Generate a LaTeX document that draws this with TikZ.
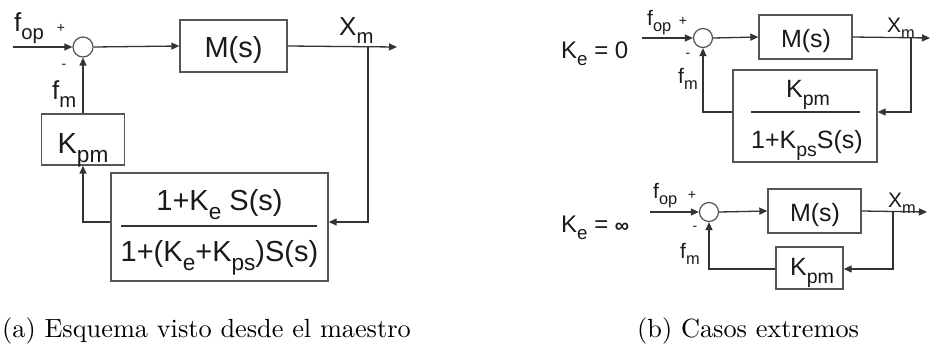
\documentclass[tikz,border=0pt]{standalone}
\usepackage{fontspec}
\newfontfamily\arial{Liberation Sans}
\usetikzlibrary{arrows.meta}
\newcommand{\sbs}[1]{\raisebox{-0.32em}{\scalebox{0.78}{#1}}}
\definecolor{lc}{HTML}{333333}
\definecolor{bc}{HTML}{555555}
\definecolor{tc}{HTML}{1A1A1A}
\begin{document}
\begin{tikzpicture}[x=1pt,y=-1pt,
  blk/.style={draw=bc,line width=1.4pt,inner sep=0pt},
  sumc/.style={circle,draw=bc,line width=1.2pt,inner sep=0pt,fill=white},
  ln/.style={draw=lc,line width=1.3pt},
  arr/.style={-{Triangle[length=8pt,width=7pt]}},
  bar/.style={draw=lc,line width=2pt},
  txt/.style={inner sep=0pt,anchor=base,text=tc},
  lblL/.style={txt,anchor=base west,font=\arial\fontsize{26}{30}\selectfont},
  lblR/.style={txt,anchor=base west,font=\arial\fontsize{21}{25}\selectfont},
  boxL/.style={txt,font=\arial\fontsize{29}{34}\selectfont},
  boxR/.style={txt,font=\arial\fontsize{25}{30}\selectfont},
  sgn/.style={inner sep=0pt,text=tc,font=\arial\fontsize{14}{16}\selectfont},
  captxt/.style={inner sep=0pt,anchor=base west,text=black,font=\fontsize{10}{12}\selectfont}
]
\useasboundingbox (0,0) rectangle (930,349);

% ---------------- left diagram ----------------
\coordinate (in1) at (13,47);
\node[sumc,minimum size=20pt] (s1) at (83,47) {};
\node[blk,minimum width=107pt,minimum height=52pt] (M1) at (233.5,46) {};
\node[boxL] (M1t) at (233.5,57) {M(s)};
\coordinate (b1) at (368,47);
\coordinate (out1) at (397,47);
\node[blk,minimum width=83pt,minimum height=51pt] (K1) at (83,139.5) {};
\node[boxL] (K1t) at (83,153) {K\sbs{pm}};
\node[blk,minimum width=217pt,minimum height=108pt] (F1) at (219.5,227) {};
\node[boxL] (F1n) at (219.5,210) {1+K\sbs{e} S(s)};
\node[boxL] (F1d) at (219.5,261) {1+(K\sbs{e}+K\sbs{ps})S(s)};
\draw[bar] (121,226) -- (317,226);
\coordinate (c1) at (368,222);

\node[lblL] (fop1) at (14,31) {f\sbs{op}};
\node[sgn] (p1) at (61,28) {+};
\node[sgn] (m1) at (64,66) {-};
\node[lblL] (fm1) at (52,99) {f\sbs{m}};
\node[lblL] (xm1) at (339,35) {X\sbs{m}};

\draw[ln,arr] (in1) -- (s1.west);
\draw[ln,arr] (s1.east) -- (M1.west);
\draw[ln,arr] (M1.east) -- (out1);
\draw[ln,arr] (b1) -- (c1) -- (c1 -| F1.east);
\draw[ln,arr] (c1 -| F1.west) -- (c1 -| K1.south) -- (K1.south);
\draw[ln,arr] (K1.north) -- (s1.south);

% ---------------- right top ----------------
\node[txt,anchor=base west,font=\arial\fontsize{24}{28}\selectfont] (ke0) at (561,58) {K\sbs{e} = 0};
\coordinate (in2) at (642,38);
\node[sumc,minimum size=19pt] (s2) at (703,38) {};
\node[blk,minimum width=93pt,minimum height=44pt] (M2) at (805.5,37) {};
\node[boxR] (M2t) at (806,47) {M(s)};
\coordinate (b2) at (911,38);
\coordinate (out2) at (930,38);
\node[blk,minimum width=144pt,minimum height=92pt] (F2) at (805,116) {};
\node[boxR] (F2n) at (808,97) {K\sbs{pm}};
\node[boxR] (F2d) at (807,148) {1+K\sbs{ps}S(s)};
\draw[bar] (751,112) -- (860,112);
\coordinate (c2) at (911,112);

\node[lblR] (fop2) at (647,25) {f\sbs{op}};
\node[sgn] (p2) at (683,21) {+};
\node[sgn] (m2) at (688,55) {-};
\node[lblR] (fm2) at (678,83) {f\sbs{m}};
\node[lblR] (xm2) at (887,32) {X\sbs{m}};

\draw[ln,arr] (in2) -- (s2.west);
\draw[ln,arr] (s2.east) -- (M2.west);
\draw[ln,arr] (M2.east) -- (out2);
\draw[ln,arr] (b2) -- (c2) -- (c2 -| F2.east);
\draw[ln,arr] (c2 -| F2.west) -- (c2 -| s2.south) -- (s2.south);

% ---------------- right bottom ----------------
\node[txt,anchor=base west,font=\arial\fontsize{24}{28}\selectfont] (kei) at (561,232) {K\sbs{e} = {\bfseries\fontsize{20}{24}\selectfont ∞}};
\coordinate (in3) at (650,212);
\node[sumc,minimum size=19pt] (s3) at (709,212) {};
\node[blk,minimum width=93pt,minimum height=44pt] (M3) at (814.5,211) {};
\node[boxR] (M3t) at (815,221) {M(s)};
\coordinate (b3) at (893,212);
\coordinate (out3) at (927,212);
\node[blk,minimum width=67pt,minimum height=42pt] (K3) at (809.5,268) {};
\node[boxR] (K3t) at (812,275) {K\sbs{pm}};
\coordinate (c3) at (893,269);

\node[lblR] (fop3) at (653,198) {f\sbs{op}};
\node[sgn] (p3) at (692,195) {+};
\node[sgn] (m3) at (695,228) {-};
\node[lblR] (fm3) at (680,258) {f\sbs{m}};
\node[lblR] (xm3) at (888,207) {X\sbs{m}};

\draw[ln,arr] (in3) -- (s3.west);
\draw[ln,arr] (s3.east) -- (M3.west);
\draw[ln,arr] (M3.east) -- (out3);
\draw[ln,arr] (b3) -- (c3) -- (c3 -| K3.east);
\draw[ln,arr] (c3 -| K3.west) -- (c3 -| s3.south) -- (s3.south);

% ---------------- captions ----------------
\node[captxt] (capa) at (2,337) {\scalebox{2.63}{(a) Esquema visto desde el maestro}};
\node[captxt] (capb) at (637,337) {\scalebox{2.63}{(b) Casos extremos}};
\end{tikzpicture}
\end{document}
